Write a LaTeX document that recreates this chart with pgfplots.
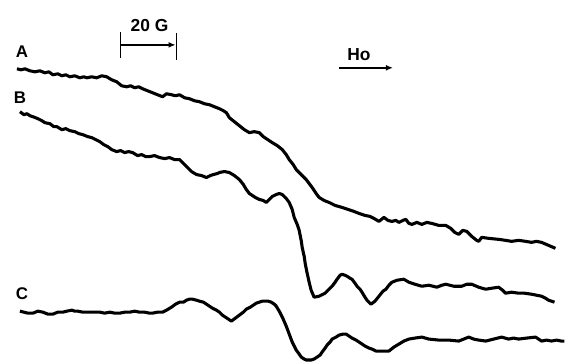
\documentclass[border=0pt]{standalone}
\usepackage{pgfplots}
\pgfplotsset{compat=1.18}
\usepackage{fontspec}
\setmainfont{Liberation Sans}
\usetikzlibrary{arrows.meta}
\begin{document}
\begin{tikzpicture}
\begin{axis}[
  scale only axis, width=566bp, height=362bp,
  xmin=0, xmax=566, ymin=0, ymax=362, y dir=reverse,
  hide axis, clip=false,
]
\path (rel axis cs:0,0) rectangle (rel axis cs:1,1);
% Trace A
\addplot[black, line width=3.1pt, line join=round] coordinates {
(17,69) (21,70) (25,69) (30,71) (35,72) (40,71) (45,73) (49,72) (53,75) (58,74) (62,76) (66,75)
(70,77) (75,76) (80,78) (84,77) (87,78) (92,77) (97,78) (102,76) (107,77) (112,80) (117,82)
(122,86) (127,87) (131,86) (135,88) (139,87) (143,89) (148,91) (153,93) (158,95) (163,97)
(167,94) (172,95) (176,96) (180,95) (185,98) (190,99) (195,101) (200,102) (205,104) (210,105)
(215,107) (220,109) (224,111) (227,113) (230,118) (235,122) (240,126) (245,130) (250,133)
(255,132) (260,133) (264,137) (267,139) (270,141) (273,143) (278,146) (283,150) (287,155)
(290,160) (294,165) (297,170) (302,175) (307,180) (310,184) (313,188) (317,194) (320,198)
(325,201) (330,203) (336,206) (343,208) (349,210) (355,212) (360,214) (366,216) (371,217)
(375,219) (380,222) (385,218) (389,221) (393,222) (397,221) (400,223) (404,221) (407,220)
(410,224) (413,225) (418,223) (423,225) (428,223) (433,224) (440,226) (447,226) (452,229)
(456,233) (460,235) (464,231) (468,232) (473,237) (478,241) (480,242) (483,238) (490,239)
(500,240) (507,241) (513,242) (520,241) (527,242) (533,243) (538,242) (543,243) (550,246) (557,249)
};
% Trace B
\addplot[black, line width=3.1pt, line join=round] coordinates {
(20,112) (24,115) (27,114) (30,116) (33,117) (38,119) (42,121) (45,123) (50,124) (54,127) (57,127)
(62,130) (66,129) (70,131) (75,132) (79,134) (83,135) (88,137) (92,138) (96,140) (100,142)
(104,145) (108,147) (112,150) (117,152) (121,151) (125,153) (129,152) (133,153) (138,156)
(142,155) (146,157) (150,157) (155,156) (160,158) (165,159) (170,158) (175,160) (180,160)
(184,164) (188,168) (192,172) (197,175) (202,176) (207,178) (211,176) (214,175) (218,174)
(220,173) (225,172) (230,173) (235,176) (240,180) (244,185) (247,190) (250,194) (253,196)
(256,198) (260,200) (264,201) (267,203) (270,200) (273,197) (277,195) (280,194) (283,195)
(287,199) (290,203) (293,210) (295,218) (298,225) (300,231) (302,241) (303,248) (305,257)
(306,264) (308,274) (310,283) (312,291) (315,298) (320,297) (326,294) (330,290) (333,287)
(336,283) (338,280) (341,276) (343,275) (346,276) (348,277) (351,279) (353,280) (356,284)
(358,287) (361,290) (363,293) (366,298) (368,301) (372,305) (376,302) (380,297) (384,292)
(387,290) (390,286) (393,283) (398,281) (405,280) (410,283) (416,285) (423,287) (430,286)
(438,288) (443,286) (447,285) (455,287) (463,287) (468,285) (473,285) (480,288) (487,290)
(493,289) (500,288) (504,291) (507,294) (513,293) (520,294) (526,294) (533,295) (538,296)
(543,297) (547,299) (550,301) (553,302) (556,303)
};
% Trace C
\addplot[black, line width=3.1pt, line join=round] coordinates {
(20,312) (24,313) (28,314) (33,314) (38,312) (43,313) (48,315) (53,315) (58,313) (63,313)
(67,312) (72,311) (75,312) (78,312) (83,313) (87,313) (93,313) (100,313) (105,314) (110,313)
(115,314) (120,314) (125,313) (130,313) (135,312) (140,313) (145,313) (150,314) (153,314)
(158,313) (163,313) (167,311) (172,308) (176,305) (180,303) (184,303) (187,301) (190,300)
(193,300) (197,301) (200,302) (204,303) (207,305) (210,307) (213,309) (217,311) (220,313)
(223,316) (226,318) (229,320) (232,322) (236,319) (240,316) (244,313) (247,310) (251,308)
(254,306) (257,304) (260,303) (263,302) (266,302) (269,302) (272,303) (275,305) (277,307)
(280,312) (282,316) (284,320) (287,327) (290,335) (293,343) (295,347) (297,351) (300,355)
(302,358) (305,360) (307,361) (310,361) (312,361) (315,360) (318,358) (321,356) (323,353)
(326,349) (328,346) (331,343) (333,340) (337,338) (340,336) (344,335) (347,335) (350,337)
(353,339) (357,341) (360,343) (363,345) (366,347) (370,349) (373,350) (377,352) (380,352)
(385,352) (390,352) (395,348) (400,345) (405,342) (410,340) (416,339) (423,338) (430,340)
(440,341) (450,341) (460,342) (465,340) (470,338) (475,340) (480,341) (487,342) (495,340)
(503,338) (510,340) (515,339) (520,340) (528,339) (537,338) (540,340) (543,342) (548,341)
(553,342) (558,341) (563,342) (566,342)
};
% Labels
\node[font=\fontsize{17}{19}\selectfont\bfseries, anchor=center] at (axis cs:22,52) {A};
\node[font=\fontsize{17}{19}\selectfont\bfseries, anchor=center] at (axis cs:20,98) {B};
\node[font=\fontsize{17}{19}\selectfont\bfseries, anchor=center] at (axis cs:22,294) {C};
% Scale bar
\draw[black, line width=1.1pt] (axis cs:121,32) -- (axis cs:121,58);
\draw[black, line width=1.1pt] (axis cs:177,33) -- (axis cs:177,60);
\draw[black, line width=1.8pt, -{Latex[length=7pt,width=6pt]}] (axis cs:121,45) -- (axis cs:176,45);
\node[font=\fontsize{17.5}{19}\selectfont\bfseries, anchor=center] at (axis cs:150,26) {20 G};
% Ho arrow
\node[font=\fontsize{17.5}{19}\selectfont\bfseries, anchor=center] at (axis cs:360,55) {Ho};
\draw[black, line width=1.8pt, -{Latex[length=7pt,width=6pt]}] (axis cs:340,68) -- (axis cs:394,68);
\end{axis}
\end{tikzpicture}
\end{document}
